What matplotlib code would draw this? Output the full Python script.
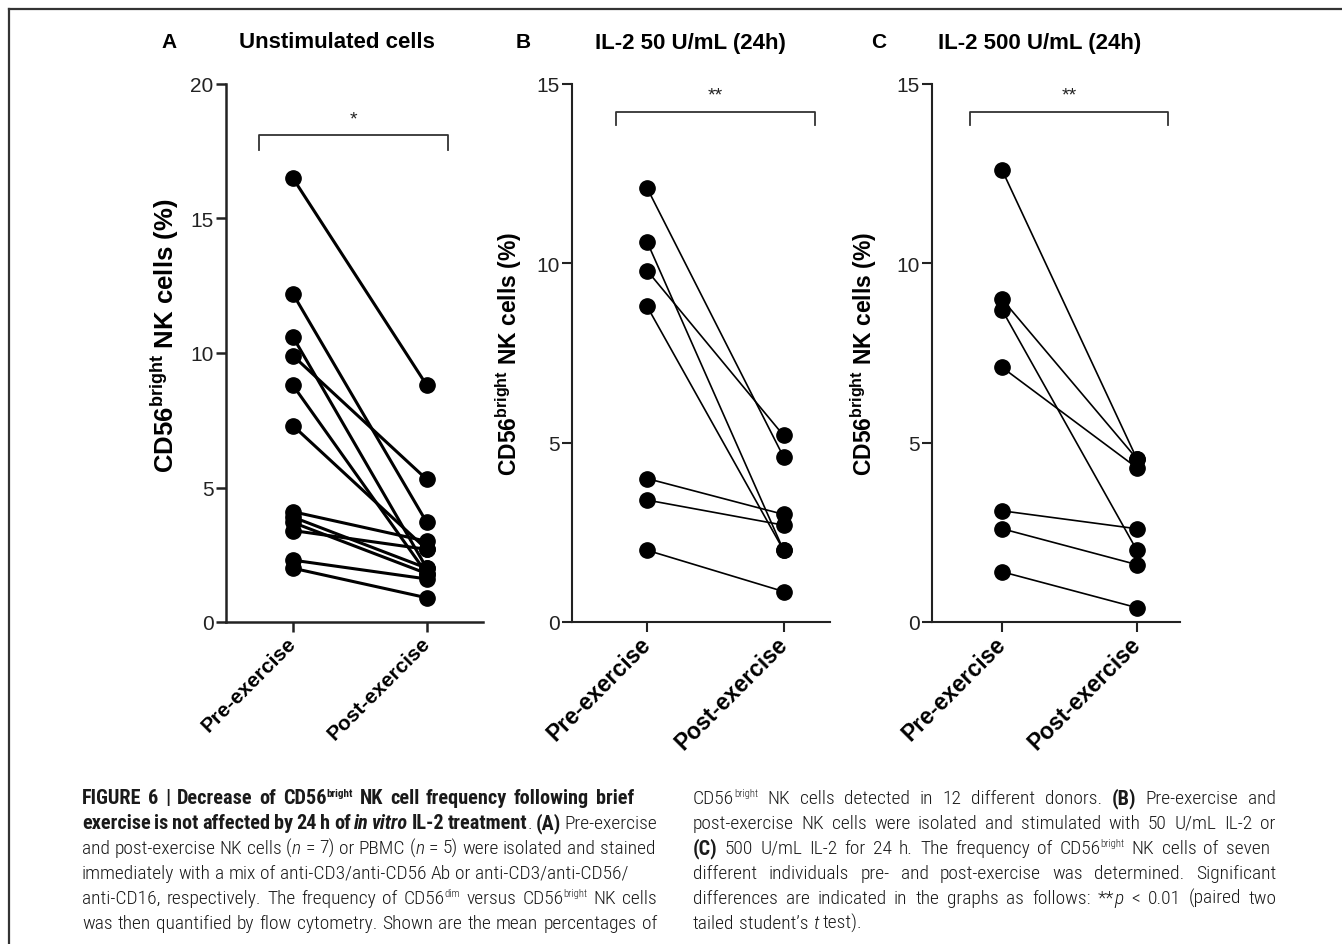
import matplotlib
matplotlib.use("Agg")
import matplotlib.pyplot as plt
from matplotlib import font_manager as fm
from matplotlib.lines import Line2D

# --- data ---
GROUPS = ["Pre-exercise", "Post-exercise"]

A_pre = [16.5, 12.2, 10.6, 9.9, 8.8, 7.3, 4.1, 3.9, 3.7, 3.4, 2.3, 2.0]
A_post = [8.8, 3.7, 2.0, 5.3, 1.8, 2.7, 3.0, 2.0, 1.8, 2.7, 1.6, 0.9]

B_pre = [12.1, 10.6, 9.8, 8.8, 4.0, 3.4, 2.0]
B_post = [4.6, 2.0, 5.2, 2.0, 3.0, 2.7, 0.85]

C_pre = [12.6, 9.0, 8.7, 7.1, 3.1, 2.6, 1.4]
C_post = [4.55, 4.55, 2.0, 4.3, 2.6, 1.6, 0.4]

PANEL_LETTERS = ["A", "B", "C"]
PANEL_TITLES = ["Unstimulated cells", "IL-2 50 U/mL (24h)", "IL-2 500 U/mL (24h)"]
SIG_LABELS = ["*", "**", "**"]
Y_MAX = [20, 15, 15]

W, H = 1342, 945

SANS = "Liberation Sans"


def pick_narrow():
    """Look for a condensed sans family among the installed fonts."""
    names = {f.name for f in fm.fontManager.ttflist}
    for name in ["Roboto Condensed", "Liberation Sans Narrow", "Open Sans Condensed",
                 "DejaVu Sans Condensed", "Noto Sans Condensed", "Arial Narrow"]:
        if name in names:
            return name, 14.0, 14.6
    for name in sorted(names):
        if "Condensed" in name or "Narrow" in name:
            if "Mono" not in name and "Serif" not in name:
                return name, 14.0, 14.6
    return SANS, 12.6, 12.8


NARROW, CAP_SIZE, CAP_BOLD_SIZE = pick_narrow()

plt.rcParams["font.family"] = [SANS, "DejaVu Sans"]
plt.rcParams["mathtext.fontset"] = "custom"
plt.rcParams["mathtext.rm"] = SANS
plt.rcParams["mathtext.bf"] = SANS + ":bold"
plt.rcParams["mathtext.it"] = SANS + ":italic"

fig = plt.figure(figsize=(W / 100, H / 100), dpi=100)

# open frame around the figure area (top + left)
fig.add_artist(Line2D([9 / W, 1.0], [1 - 10 / H, 1 - 10 / H], transform=fig.transFigure,
                      color="#333333", lw=1.6))
fig.add_artist(Line2D([9 / W, 9 / W], [1 - 10 / H, 0.0], transform=fig.transFigure,
                      color="#333333", lw=1.6))

# axes boxes in pixels: left, right ; x-limits ; bracket ends
panels = [
    dict(pre=A_pre, post=A_post, left=226, right=483, xlim=(-0.5, 1.42),
         br=(-0.25, 1.16), br_y=(18.1, 17.55), star_y=18.4, lw=2.2, spine=1.8,
         label_x=181, label_y=0.533, label_size=18.5, xt_size=15,
         letter_x=169, title_x=337),
    dict(pre=B_pre, post=B_post, left=572, right=830, xlim=(-0.55, 1.34),
         br=(-0.23, 1.23), br_y=(14.22, 13.85), star_y=14.45, lw=1.2, spine=1.5,
         label_x=524, label_y=0.5, label_size=16.5, xt_size=16.5,
         letter_x=523, title_x=690),
    dict(pre=C_pre, post=C_post, left=932, right=1180, xlim=(-0.52, 1.32),
         br=(-0.24, 1.23), br_y=(14.22, 13.85), star_y=14.45, lw=1.2, spine=1.5,
         label_x=879, label_y=0.5, label_size=16.5, xt_size=16.5,
         letter_x=879, title_x=1040),
]

top_px, bottom_px = 85, 623

for i, p in enumerate(panels):
    ax = fig.add_axes([p["left"] / W, 1 - bottom_px / H,
                       (p["right"] - p["left"]) / W, (bottom_px - top_px) / H])
    for a, b in zip(p["pre"], p["post"]):
        ax.plot([0, 1], [a, b], color="black", lw=p["lw"], marker="o",
                markersize=11, markerfacecolor="black", markeredgecolor="black",
                solid_capstyle="round", clip_on=False, zorder=3)

    ax.set_xlim(*p["xlim"])
    ax.set_ylim(0, Y_MAX[i])
    ax.set_yticks(range(0, Y_MAX[i] + 1, 5))
    ax.set_xticks([0, 1])
    ax.set_xticklabels(GROUPS, rotation=45, ha="right", va="center",
                       rotation_mode="anchor", fontsize=p["xt_size"], fontweight="bold")
    ax.tick_params(axis="y", labelsize=15, length=7, width=p["spine"], pad=2,
                   colors="#222222")
    ax.tick_params(axis="x", length=7, width=p["spine"], pad=6, colors="#222222")
    for t in ax.get_xticklabels():
        t.set_color("black")
    for side in ["top", "right"]:
        ax.spines[side].set_visible(False)
    for side in ["left", "bottom"]:
        ax.spines[side].set_linewidth(p["spine"])
        ax.spines[side].set_color("#222222")

    ax.set_ylabel(r"CD56$^{\mathbf{bright}}$ NK cells (%)", fontsize=p["label_size"],
                  fontweight="bold")
    ax.yaxis.set_label_coords((p["label_x"] - p["left"]) / (p["right"] - p["left"]),
                              p["label_y"])

    # significance bracket
    x0, x1 = p["br"]
    yh, yl = p["br_y"]
    ax.plot([x0, x0, x1, x1], [yl, yh, yh, yl], color="#333333", lw=1.3, clip_on=False)
    ax.text((x0 + x1) / 2, p["star_y"], SIG_LABELS[i], ha="center", va="bottom",
            fontsize=14, color="#222222")

    fig.text(p["letter_x"] / W, 1 - 43 / H, PANEL_LETTERS[i], ha="center", va="center",
             fontsize=15, fontweight="bold")
    fig.text(p["title_x"] / W, 1 - 43 / H, PANEL_TITLES[i], ha="center", va="center",
             fontsize=16, fontweight="bold")

# --- caption (justified lines) ---
renderer = fig.canvas.get_renderer()


def text_width(s, fp):
    w1, _, _ = renderer.get_text_width_height_descent("|" + s + "|", fp, ismath=False)
    w0, _, _ = renderer.get_text_width_height_descent("||", fp, ismath=False)
    return w1 - w0


def seg_props(sty):
    fsize = CAP_BOLD_SIZE if "b" in sty else CAP_SIZE
    dy = 0.0
    if "s" in sty:
        dy = fsize * 100 / 72 * 0.36
        fsize = fsize * 0.55
    fp = fm.FontProperties(family=[NARROW, SANS],
                           weight="bold" if "b" in sty else "light",
                           style="italic" if "i" in sty else "normal",
                           size=fsize)
    return fp, dy


def rich_line(x, y, segs, end=None):
    # split every segment into words so the spaces can be stretched
    pieces = []
    for txt, sty in segs:
        fp, dy = seg_props(sty)
        words = txt.split(" ")
        for j, w in enumerate(words):
            if j > 0:
                pieces.append((" ", fp, dy))
            if w:
                pieces.append((w, fp, dy))
    widths = [text_width(t, fp) for t, fp, _ in pieces]
    extra = 0.0
    n_sp = sum(1 for t, _, _ in pieces if t == " ")
    if end is not None and n_sp:
        extra = (end - x - sum(widths)) / n_sp
    for (t, fp, dy), w in zip(pieces, widths):
        if t == " ":
            x += max(w + extra, 1.5)
            continue
        fig.text(x / W, (H - y + dy) / H, t, fontproperties=fp, ha="left",
                 va="baseline", color="#1a1a1a")
        x += w


left_lines = [
    [("FIGURE 6 | Decrease of CD56", "b"), ("bright", "bs"),
     (" NK cell frequency following brief", "b")],
    [("exercise is not affected by 24 h of ", "b"), ("in vitro", "bi"),
     (" IL-2 treatment", "b"), (". ", "r"), ("(A)", "b"), (" Pre-exercise", "r")],
    [("and post-exercise NK cells (", "r"), ("n", "i"), (" = 7) or PBMC (", "r"),
     ("n", "i"), (" = 5) were isolated and stained", "r")],
    [("immediately with a mix of anti-CD3/anti-CD56 Ab or anti-CD3/anti-CD56/", "r")],
    [("anti-CD16, respectively. The frequency of CD56", "r"), ("dim", "s"),
     (" versus CD56", "r"), ("bright", "s"), (" NK cells", "r")],
    [("was then quantified by flow cytometry. Shown are the mean percentages of", "r")],
]
left_ends = [634, 657, 655, None, 657, 657]

right_lines = [
    [("CD56", "r"), ("bright", "s"), (" NK cells detected in 12 different donors. ", "r"),
     ("(B)", "b"), (" Pre-exercise and", "r")],
    [("post-exercise NK cells were isolated and stimulated with 50 U/mL IL-2 or", "r")],
    [("(C)", "b"), (" 500 U/mL IL-2 for 24 h. The frequency of CD56", "r"), ("bright", "s"),
     (" NK cells of seven", "r")],
    [("different individuals pre- and post-exercise was determined. Significant", "r")],
    [("differences are indicated in the graphs as follows: **", "r"), ("p", "i"),
     (" < 0.01 (paired two", "r")],
    [("tailed student\u2019s ", "r"), ("t", "i"), (" test).", "r")],
]
right_ends = [1276, 1275, 1270, 1276, 1277, None]

for k, segs in enumerate(left_lines):
    rich_line(82, 804 + 25 * k, segs, left_ends[k])
for k, segs in enumerate(right_lines):
    rich_line(693, 804 + 25 * k, segs, right_ends[k])

fig.savefig("out.png", dpi=100)
